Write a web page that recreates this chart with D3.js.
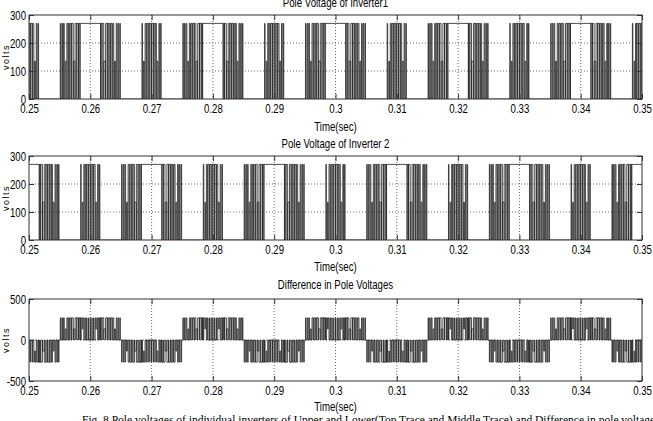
<!DOCTYPE html>
<html>
<head>
<meta charset="utf-8">
<script src="https://cdn.jsdelivr.net/npm/d3@7"></script>
<style>
  body { margin: 0; background: #fff; }
  svg { display: block; }
</style>
</head>
<body>
<div id="chart"></div>
<script>
// ---- data ----
const timeTicks = [0.25, 0.26, 0.27, 0.28, 0.29, 0.30, 0.31, 0.32, 0.33, 0.34, 0.35];
const timeLabels = ["0.25", "0.26", "0.27", "0.28", "0.29", "0.3", "0.31", "0.32", "0.33", "0.34", "0.35"];
const poleTicks = [0, 100, 200, 300];
const diffTicks = [-500, 0, 500];

const vHigh = 270;
const vHalf = 135;

// 60-degree segment boundaries (s)
const segBounds = [0.24833, 0.25167, 0.255, 0.25833, 0.26167, 0.265, 0.26833, 0.27167, 0.275, 0.27833,
  0.28167, 0.285, 0.28833, 0.29167, 0.295, 0.29833, 0.30167, 0.305, 0.30833, 0.31167, 0.315, 0.31833,
  0.32167, 0.325, 0.32833, 0.33167, 0.335, 0.33833, 0.34167, 0.345, 0.34833, 0.35167];

// H = held high, L = held low, R / F / M = switching groups
const inv1States = "MLRHFLMLRHFLMLRHFLMLRHFLMLRHFLM".split("");
const inv2States = "HFLMLRHFLMLRHFLMLRHFLMLRHFLMLRH".split("");

// pulses inside a switching group: [on ms, off ms, level]
const risePulses = [[0.10, 0.18, vHigh], [0.36, 0.47, vHigh], [0.63, 0.76, vHigh], [0.90, 1.05, vHalf],
  [1.17, 1.34, vHigh], [1.44, 1.63, vHigh], [1.71, 1.92, vHigh], [1.98, 2.22, vHigh],
  [2.24, 2.50, vHalf], [2.52, 2.79, vHigh], [2.81, 3.08, vHigh], [3.10, 3.31, vHigh]];
const fallPulses = [[0.02, 0.23, vHigh], [0.25, 0.52, vHigh], [0.54, 0.81, vHalf], [0.83, 1.09, vHigh],
  [1.11, 1.35, vHigh], [1.41, 1.62, vHigh], [1.70, 1.89, vHigh], [1.99, 2.16, vHigh],
  [2.28, 2.43, vHalf], [2.57, 2.70, vHigh], [2.86, 2.97, vHigh], [3.15, 3.23, vHigh]];
const midPulses = [[0.10, 0.18, vHigh], [0.36, 0.48, vHalf], [0.61, 0.77, vHigh], [0.87, 1.07, vHigh],
  [1.13, 1.36, vHigh], [1.40, 1.65, vHigh], [1.68, 1.93, vHigh], [1.97, 2.20, vHigh],
  [2.26, 2.46, vHigh], [2.56, 2.72, vHalf], [2.86, 2.98, vHigh], [3.15, 3.23, vHigh]];

const titles = ["Pole Voltage of Inverter1", "Pole Voltage of Inverter 2", "Difference in Pole Voltages"];
const caption = "Fig. 8 Pole voltages of individual inverters of Upper and Lower(Top Trace and Middle Trace) and Difference in pole voltages (Bottom Trace)";

// ---- build step series ----
const patterns = { R: risePulses, F: fallPulses, M: midPulses };

function buildSeries(states) {
  const pts = [];
  states.forEach((s, i) => {
    const a = segBounds[i];
    if (s === "H") pts.push([a, vHigh]);
    else if (s === "L") pts.push([a, 0]);
    else {
      pts.push([a, 0]);
      patterns[s].forEach(([on, off, lv]) => {
        pts.push([a + on / 1000, lv]);
        pts.push([a + off / 1000, 0]);
      });
    }
  });
  pts.push([segBounds[segBounds.length - 1], pts[pts.length - 1][1]]);
  return pts;
}

const inv1 = buildSeries(inv1States);
const inv2 = buildSeries(inv2States);

const bis = d3.bisector(d => d[0]).right;
const valueAt = (pts, t) => pts[Math.max(0, bis(pts, t) - 1)][1];
const allTimes = Array.from(new Set(inv1.map(d => d[0]).concat(inv2.map(d => d[0])))).sort((a, b) => a - b);
const diff = allTimes.map(t => [t, valueAt(inv1, t) - valueAt(inv2, t)]);

// ---- layout ----
const W = 653, H = 421;
const sx = 0.77; // narrow MATLAB lettering
const font = "'Liberation Sans Narrow', 'Arial Narrow', 'Liberation Sans', Arial, sans-serif";

const panels = [
  { series: inv1, domain: [0, 300], ticks: poleTicks, top: 15, bottom: 99, titleY: 6.5, timeY: 131 },
  { series: inv2, domain: [0, 300], ticks: poleTicks, top: 156, bottom: 240, titleY: 148, timeY: 271 },
  { series: diff, domain: [-500, 500], ticks: diffTicks, top: 299, bottom: 381, titleY: 289.5, timeY: 411 }
];

const svg = d3.select("#chart").append("svg").attr("width", W).attr("height", H)
  .style("background", "#fff");

const x = d3.scaleLinear().domain([0.25, 0.35]).range([29, 642]);

function squeeze(sel) {
  sel.each(function() {
    const t = d3.select(this);
    const x0 = +t.attr("x") || 0;
    t.attr("x", x0 / sx).attr("transform", `scale(${sx},1)`);
  });
}

panels.forEach((p, i) => {
  const y = d3.scaleLinear().domain(p.domain).range([p.bottom, p.top]);
  const g = svg.append("g");

  svg.append("clipPath").attr("id", "clip" + i)
    .append("rect").attr("x", x.range()[0]).attr("y", p.top)
    .attr("width", x.range()[1] - x.range()[0]).attr("height", p.bottom - p.top);

  // grid
  g.selectAll(".vgrid").data(timeTicks.slice(1, -1)).join("line")
    .attr("x1", d => x(d)).attr("x2", d => x(d))
    .attr("y1", p.top).attr("y2", p.bottom)
    .attr("stroke", "#444").attr("stroke-width", 0.8).attr("stroke-dasharray", "1,2");
  g.selectAll(".hgrid").data(p.ticks.slice(1, -1)).join("line")
    .attr("x1", x.range()[0]).attr("x2", x.range()[1])
    .attr("y1", d => y(d)).attr("y2", d => y(d))
    .attr("stroke", "#444").attr("stroke-width", 0.8).attr("stroke-dasharray", "1,2");

  // waveform
  const line = d3.line().x(d => x(d[0])).y(d => y(d[1])).curve(d3.curveStepAfter);
  g.append("path").datum(p.series)
    .attr("clip-path", `url(#clip${i})`)
    .attr("fill", "none").attr("stroke", "#222").attr("stroke-width", 0.8)
    .attr("d", line);

  // box
  g.append("rect").attr("x", x.range()[0]).attr("y", p.top)
    .attr("width", x.range()[1] - x.range()[0]).attr("height", p.bottom - p.top)
    .attr("fill", "none").attr("stroke", "#333").attr("stroke-width", 1);

  // axes (ticks pointing inward)
  const xb = g.append("g").attr("transform", `translate(0,${p.bottom})`)
    .call(d3.axisBottom(x).tickValues(timeTicks).tickFormat((d, k) => timeLabels[k])
      .tickSizeInner(-5).tickSizeOuter(0));
  const xt = g.append("g").attr("transform", `translate(0,${p.top})`)
    .call(d3.axisTop(x).tickValues(timeTicks).tickFormat("").tickSizeInner(-5).tickSizeOuter(0));
  const yl = g.append("g").attr("transform", `translate(${x.range()[0]},0)`)
    .call(d3.axisLeft(y).tickValues(p.ticks).tickFormat(d => d).tickSizeInner(-5).tickSizeOuter(0));
  const yr = g.append("g").attr("transform", `translate(${x.range()[1]},0)`)
    .call(d3.axisRight(y).tickValues(p.ticks).tickFormat("").tickSizeInner(-5).tickSizeOuter(0));

  [xb, xt, yl, yr].forEach(a => {
    a.select(".domain").remove();
    a.selectAll(".tick line").attr("stroke", "#333");
    a.selectAll("text").style("font-family", font).style("font-size", "12.5px").attr("fill", "#000");
  });
  xb.selectAll("text").attr("y", 14.5).attr("dy", 0);
  yl.selectAll("text").attr("x", -3).attr("dy", "0.35em");
  squeeze(xb.selectAll("text"));
  squeeze(yl.selectAll("text"));

  // title, x label, y label
  const tt = svg.append("text").attr("x", 335.5).attr("y", p.titleY).attr("text-anchor", "middle")
    .style("font-family", font).style("font-size", "12.5px").text(titles[i]);
  squeeze(tt);
  const tl = svg.append("text").attr("x", 335.5).attr("y", p.timeY).attr("text-anchor", "middle")
    .style("font-family", font).style("font-size", "12.5px").text("Time(sec)");
  squeeze(tl);

  svg.append("text")
    .attr("transform", `translate(9,${(p.top + p.bottom) / 2}) rotate(-90)`)
    .attr("text-anchor", "middle")
    .style("font-family", "'Liberation Sans', Arial, sans-serif").style("font-size", "9px")
    .style("letter-spacing", "1.5px")
    .text("volts");
});

svg.append("text").attr("x", 82).attr("y", 424)
  .style("font-family", "'Liberation Serif', 'Times New Roman', serif").style("font-size", "11.5px")
  .text(caption);
</script>
</body>
</html>
